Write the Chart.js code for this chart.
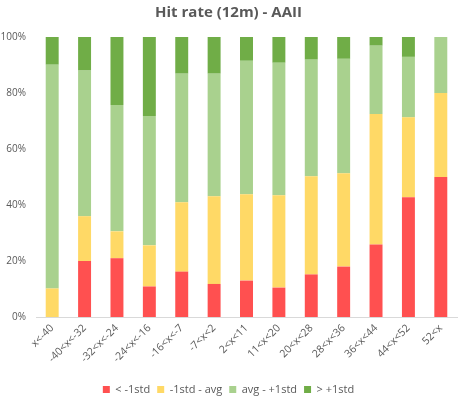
<!DOCTYPE html>
<html>
<head>
<meta charset="utf-8">
<script src="https://cdn.jsdelivr.net/npm/chart.js@4"></script>
<style>
    html, body { margin: 0; padding: 0; background: #fff; overflow: hidden; }
    #wrap { width: 459px; height: 405px; position: relative; }
</style>
</head>
<body>
<div id="wrap"><canvas id="hitChart"></canvas></div>
<script>
// Buckets and stacked shares (%)
const categories = ['x<-40', '-40<x<-32', '-32<x<-24', '-24<x<-16', '-16<x<-7', '-7<x<2',
    '2<x<11', '11<x<20', '20<x<28', '28<x<36', '36<x<44', '44<x<52', '52<x'];
const belowStd = [0, 20, 21, 10.9, 16.2, 11.8, 13, 10.5, 15.2, 18, 25.9, 42.8, 50];
const stdToAvg = [10.2, 16, 9.6, 14.7, 24.8, 31.3, 30.8, 33, 35.1, 33.3, 46.6, 28.5, 30];
const avgToStd = [79.9, 52, 45.1, 46.2, 45.9, 43.8, 47.7, 47.3, 41.6, 40.9, 24.4, 21.6, 20];
const aboveStd = [9.9, 12, 24.3, 28.2, 13.1, 13.1, 8.5, 9.2, 8.1, 7.8, 3.1, 7.1, 0];
const yTicks = [0, 20, 40, 60, 80, 100];

const textColor = '#595959';
const fontFamily = '"Open Sans", "Noto Sans", sans-serif';

document.addEventListener('DOMContentLoaded', function() {
    const ctx = document.getElementById('hitChart').getContext('2d');
    const series = [
        { label: '< -1std', data: belowStd, color: '#FF5050' },
        { label: '-1std - avg', data: stdToAvg, color: '#FFD966' },
        { label: 'avg - +1std', data: avgToStd, color: '#A9D18E' },
        { label: '> +1std', data: aboveStd, color: '#70AD47' }
    ];

    new Chart(ctx, {
        type: 'bar',
        data: {
            labels: categories,
            datasets: series.map(s => ({
                label: s.label,
                data: s.data,
                backgroundColor: s.color,
                borderWidth: 0,
                barPercentage: 0.4,
                categoryPercentage: 1
            }))
        },
        options: {
            responsive: true,
            maintainAspectRatio: false,
            animation: false,
            layout: { padding: { left: 0, right: 2, top: 4, bottom: 0 } },
            scales: {
                x: {
                    stacked: true,
                    grid: { display: false, drawTicks: false },
                    border: { color: '#D9D9D9' },
                    afterFit: axis => { axis.height = 60; },
                    ticks: {
                        color: textColor,
                        font: { family: fontFamily, size: 10.5 },
                        minRotation: 45,
                        maxRotation: 45,
                        autoSkip: false,
                        padding: 5
                    }
                },
                y: {
                    stacked: true,
                    min: 0,
                    max: 100,
                    afterBuildTicks: axis => { axis.ticks = yTicks.map(v => ({ value: v })); },
                    afterFit: axis => { axis.width = 36; },
                    grid: { display: false, drawTicks: false },
                    border: { display: false },
                    ticks: {
                        color: textColor,
                        font: { family: fontFamily, size: 10 },
                        padding: 10,
                        callback: v => v + '%'
                    }
                }
            },
            plugins: {
                title: {
                    display: true,
                    text: 'Hit rate (12m) - AAII',
                    color: textColor,
                    font: { family: fontFamily, size: 15, weight: 'bold' },
                    padding: { top: 0, bottom: 15 }
                },
                legend: {
                    position: 'bottom',
                    labels: {
                        color: textColor,
                        font: { family: fontFamily, size: 11 },
                        boxWidth: 7,
                        boxHeight: 7,
                        padding: 7
                    }
                },
                tooltip: { enabled: false }
            }
        }
    });
});
</script>
</body>
</html>
